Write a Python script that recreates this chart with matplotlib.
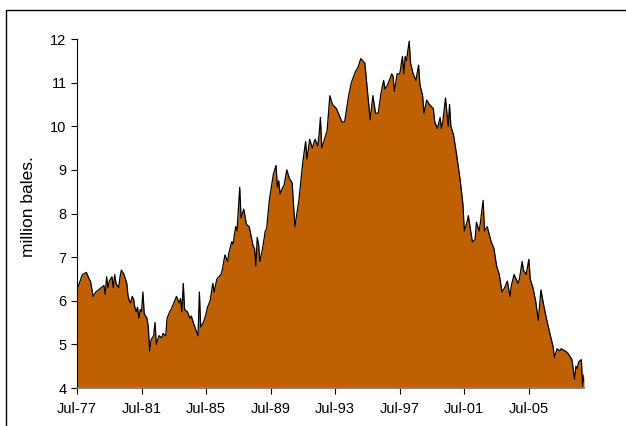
import matplotlib
matplotlib.use("Agg")
import matplotlib.pyplot as plt
from matplotlib.patches import Rectangle

plt.rcParams['font.family'] = ['Liberation Sans', 'DejaVu Sans']

# months since Jul-77 and stock level (million bales)
months = [0, 4, 7, 9, 10, 12, 14, 18, 20, 21, 22, 23, 24, 26, 27, 28, 29, 31, 32, 33,
          35, 37, 38, 39, 40, 41, 42, 43, 44, 45, 46, 47, 48, 49, 50, 52, 53, 54, 55, 57,
          58, 59, 61, 63, 64, 66, 67, 69, 70, 72, 74, 76, 77, 78, 79, 80, 82, 84, 85, 87,
          90, 91, 92, 94, 96, 97, 99, 100, 101, 102, 104, 107, 108, 110, 112, 113, 115, 116, 118, 119,
          121, 122, 124, 126, 128, 131, 132, 133, 134, 135, 136, 138, 140, 141, 143, 145, 146, 148, 149, 150,
          151, 153, 154, 156, 158, 160, 162, 165, 168, 170, 171, 173, 175, 177, 179, 180, 181, 182, 185, 186,
          188, 190, 193, 197, 199, 202, 204, 207, 209, 211, 214, 216, 218, 220, 222, 224, 226, 228, 229, 231,
          234, 235, 236, 238, 240, 242, 243, 244, 245, 247, 248, 250, 252, 254, 255, 257, 258, 260, 262, 265,
          266, 268, 270, 271, 272, 274, 276, 277, 278, 280, 282, 285, 287, 288, 290, 291, 294, 296, 297, 299,
          300, 302, 303, 305, 308, 310, 312, 314, 316, 318, 320, 322, 323, 325, 328, 329, 331, 332, 334, 336,
          337, 339, 341, 343, 345, 347, 349, 352, 354, 355, 357, 359, 360, 363, 365, 366, 368, 370, 371, 372,
          373, 375, 376, 377]
stocks = [6.25, 6.6, 6.65, 6.5, 6.45, 6.1, 6.2, 6.3, 6.35, 6.15, 6.55, 6.3, 6.45, 6.55, 6.3, 6.6, 6.4, 6.3, 6.55, 6.7,
          6.6, 6.4, 6.1, 6.0, 5.95, 6.1, 6.05, 5.85, 5.75, 5.85, 5.6, 5.8, 5.75, 6.2, 5.7, 5.6, 5.4, 4.85, 5.1, 5.2,
          5.5, 5.0, 5.2, 5.15, 5.25, 5.2, 5.6, 5.75, 5.8, 5.95, 6.1, 5.95, 6.05, 5.75, 6.4, 5.8, 5.75, 5.6, 5.65, 5.45,
          5.2, 6.2, 5.4, 5.5, 5.7, 5.85, 6.0, 6.2, 6.4, 6.2, 6.5, 6.6, 6.7, 7.05, 6.9, 7.1, 7.35, 7.3, 7.7, 7.6,
          8.6, 7.9, 8.1, 7.75, 7.7, 7.25, 7.2, 6.8, 7.45, 7.3, 6.9, 7.2, 7.6, 7.65, 8.3, 8.7, 8.9, 9.1, 8.6, 8.75,
          8.45, 8.6, 8.65, 9.0, 8.8, 8.7, 7.7, 8.3, 9.2, 9.65, 9.25, 9.7, 9.5, 9.7, 9.55, 9.8, 10.2, 9.5, 9.8, 9.9,
          10.7, 10.5, 10.4, 10.1, 10.1, 10.7, 11.0, 11.25, 11.35, 11.55, 11.45, 10.8, 10.15, 10.7, 10.3, 10.3, 10.75, 11.05, 10.85, 10.95,
          11.2, 11.15, 10.8, 11.2, 11.2, 11.6, 11.2, 11.6, 11.5, 11.95, 11.45, 11.2, 11.05, 11.4, 10.95, 10.7, 10.3, 10.6, 10.5, 10.4,
          10.1, 9.95, 10.2, 9.95, 10.1, 10.65, 10.0, 10.5, 10.0, 9.8, 9.4, 8.75, 8.2, 7.6, 7.8, 7.95, 7.35, 7.4, 7.8, 7.6,
          7.8, 8.3, 7.6, 7.7, 7.35, 7.2, 6.8, 6.6, 6.2, 6.3, 6.45, 6.1, 6.35, 6.6, 6.4, 6.5, 6.9, 6.7, 6.6, 6.95,
          6.5, 6.3, 6.0, 5.55, 6.25, 5.9, 5.6, 5.2, 4.95, 4.7, 4.9, 4.85, 4.9, 4.85, 4.8, 4.75, 4.65, 4.2, 4.5, 4.45,
          4.6, 4.65, 4.05, 4.3]

tick_months = [0, 48, 96, 144, 192, 240, 288, 336]
tick_labels = ['Jul-77', 'Jul-81', 'Jul-85', 'Jul-89', 'Jul-93', 'Jul-97', 'Jul-01', 'Jul-05']

fig = plt.figure(figsize=(6.26, 4.26), dpi=100)
ax = fig.add_axes([77 / 626, 38 / 426, (584 - 77) / 626, (388 - 39) / 426])

ax.fill_between(months, stocks, 4, color='#C06005', linewidth=0)
ax.plot(months, stocks, color='black', linewidth=0.9)

ax.set_xlim(0, 377)
ax.set_ylim(4, 12)
ax.set_yticks(range(4, 13))
ax.set_xticks(tick_months)
ax.set_xticklabels(tick_labels)
ax.tick_params(axis='both', labelsize=10.5, direction='out', length=4, width=0.8)
ax.tick_params(axis='x', pad=6)
ax.set_ylabel('million bales.', fontsize=12.5)
ax.yaxis.set_label_coords(-0.08, 0.52)

for s in ['top', 'right']:
    ax.spines[s].set_visible(False)
ax.spines['left'].set_linewidth(0.8)
ax.spines['bottom'].set_color('#808080')
ax.spines['bottom'].set_linewidth(1.2)

# outer frame around the chart
fig.patches.append(Rectangle((6 / 626, -0.1), 1.1, (416 / 426) + 0.1, transform=fig.transFigure,
                             fill=False, edgecolor='black', linewidth=1))

fig.savefig('out.png', dpi=100)
